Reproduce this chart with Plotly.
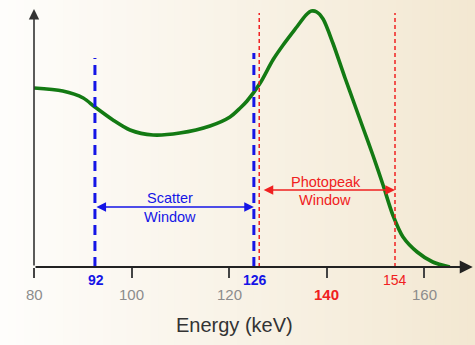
import plotly.graph_objects as go

# ---- data ----
energy = [80, 85.9, 90.1, 92.5, 96.2, 99.7, 104.4, 109.9, 116.1, 120.2, 122.3, 123.7,
          126.4, 129.0, 131.1, 133.9, 135.8, 136.9, 138.0, 139.3, 141.3, 143.8, 145.8,
          147.5, 149.5, 151.6, 153.6, 155.7, 158.6, 161.8, 165.3]
counts = [179, 176, 169, 160, 147, 137, 132, 134, 141, 150, 159, 166,
          184, 207, 222, 240, 252, 256, 255, 248, 224, 189, 162,
          139, 112, 82, 52, 30, 15, 5, 0]

axis_ticks = [80, 100, 120, 140, 160]
axis_tick_labels = ["80", "100", "120", "140", "160"]
scatter_window = [92.5, 125.1]      # drawn edges (labelled 92 / 126)
scatter_labels = ["92", "126"]
photopeak_window = [126.2, 154.05]  # drawn edges (labelled 126 / 154)
photopeak_label = "154"
peak_label = "140"

BLUE = "#1515e6"
RED = "#f02020"
GREEN = "#137a13"
FONT = "Liberation Sans, Arial, sans-serif"
YMAX = 259.0

def py(v):
    return v / YMAX

fig = go.Figure()
fig.add_trace(go.Scatter(x=energy, y=counts, mode="lines",
                         line=dict(color=GREEN, width=3.6, shape="spline", smoothing=0.8),
                         hoverinfo="skip", showlegend=False))

shapes = []
# background gradient (left white -> right cream)
n = 60
x0p, x1p = -34 / 439, 441 / 439
c0 = (254, 253, 251)
c1 = (243, 232, 210)
for i in range(n):
    t = i / (n - 1)
    col = tuple(round(c0[k] + (c1[k] - c0[k]) * t) for k in range(3))
    xa = x0p + (x1p - x0p) * i / n
    xb = x0p + (x1p - x0p) * (i + 1.3) / n
    shapes.append(dict(type="rect", xref="paper", yref="paper", x0=xa, x1=xb,
                       y0=-80 / 259, y1=1 + 10 / 259, layer="below",
                       line=dict(width=0), fillcolor="rgb(%d,%d,%d)" % col))

# window lines
for xv, top in zip(scatter_window, [209, 214]):
    shapes.append(dict(type="line", xref="x", yref="y", x0=xv, x1=xv, y0=0, y1=top,
                       line=dict(color=BLUE, width=3, dash="10px,6px")))
for xv in photopeak_window:
    shapes.append(dict(type="line", xref="x", yref="y", x0=xv, x1=xv, y0=0, y1=254,
                       line=dict(color=RED, width=1.5, dash="4px,3px")))

ann = []
# axes with arrows
ann.append(dict(x=170, y=0, ax=80, ay=0, xref="x", yref="y", axref="x", ayref="y",
                text="", showarrow=True, arrowhead=2, arrowsize=1.3, arrowwidth=2,
                arrowcolor="#222"))
ann.append(dict(x=80, y=258, ax=80, ay=0, xref="x", yref="y", axref="x", ayref="y",
                text="", showarrow=True, arrowhead=2, arrowsize=1.3, arrowwidth=1.6,
                arrowcolor="#333"))
# window arrows
ann.append(dict(x=scatter_window[1], y=60, ax=scatter_window[0], ay=60, xref="x", yref="y",
                axref="x", ayref="y", text="", showarrow=True, arrowhead=2, startarrowhead=2,
                arrowside="end+start", arrowsize=1.2, arrowwidth=1.6, arrowcolor=BLUE))
ann.append(dict(x=photopeak_window[1], y=77, ax=126.8, ay=77, xref="x", yref="y",
                axref="x", ayref="y", text="", showarrow=True, arrowhead=2, startarrowhead=2,
                arrowside="end+start", arrowsize=1.2, arrowwidth=1.6, arrowcolor=RED))

def label(x, y, text, size, color, yref="y"):
    ann.append(dict(x=x, y=y, xref="x", yref=yref, text=text, showarrow=False,
                    xanchor="center", yanchor="middle",
                    font=dict(family=FONT, size=size, color=color)))

# window labels
label(107.9, 69, "Scatter", 14.5, BLUE)
label(107.9, 50, "Window", 14.5, BLUE)
label(139.9, 85, "Photopeak", 14.5, RED)
label(139.6, 67, "Window", 14.5, RED)
# tick labels (paper-referenced in y so they can sit below the axis)
for v, t in zip(axis_ticks, axis_tick_labels):
    if t == peak_label:
        label(v, py(-27), "<b>%s</b>" % t, 15, RED, "paper")
    else:
        label(v, py(-27), t, 15, "#8c8c8c", "paper")
for v, t in zip(scatter_window, scatter_labels):
    label(v + 0.3, py(-13), "<b>%s</b>" % t, 14, BLUE, "paper")
label(photopeak_window[1], py(-13), photopeak_label, 14, RED, "paper")
label(121.2, py(-58), "Energy (keV)", 20, "#333", "paper")

fig.update_layout(
    width=475, height=345,
    margin=dict(l=34, r=2, t=8, b=78, autoexpand=False),
    paper_bgcolor="#fefdfb", plot_bgcolor="rgba(0,0,0,0)",
    shapes=shapes, annotations=ann, showlegend=False,
    xaxis=dict(range=[80, 170.05], tickvals=axis_ticks, showticklabels=False,
               ticks="outside", ticklen=10, tickwidth=1.5, tickcolor="#444",
               showgrid=False, zeroline=False, showline=False, fixedrange=True),
    yaxis=dict(range=[0, YMAX], visible=False, showgrid=False, zeroline=False, fixedrange=True),
)
fig.write_html("out.html", config={"displayModeBar": False},
               post_script="document.body.style.margin='0';document.body.style.overflow='hidden';")
